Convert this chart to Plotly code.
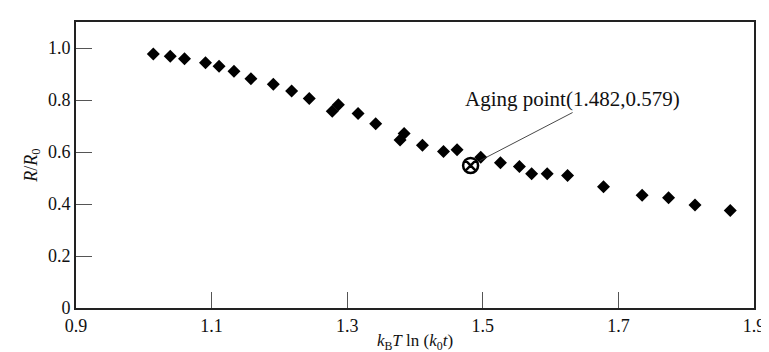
import plotly.graph_objects as go

# Data
x_vals = [1.014, 1.039, 1.060, 1.091, 1.111, 1.133, 1.158, 1.191, 1.218, 1.244,
          1.278, 1.287, 1.316, 1.342, 1.378, 1.384, 1.411, 1.442, 1.462, 1.497,
          1.526, 1.554, 1.572, 1.595, 1.625, 1.678, 1.735, 1.774, 1.813, 1.865]
y_vals = [0.977, 0.968, 0.959, 0.943, 0.930, 0.911, 0.882, 0.861, 0.835, 0.806,
          0.757, 0.782, 0.748, 0.709, 0.646, 0.671, 0.626, 0.602, 0.609, 0.580,
          0.559, 0.544, 0.516, 0.516, 0.510, 0.466, 0.434, 0.424, 0.396, 0.375]

aging_x = [1.482]
aging_y = [0.548]
aging_label = "Aging point(1.482,0.579)"

x_ticks = [0.9, 1.1, 1.3, 1.5, 1.7, 1.9]
x_ticktext = ["0.9", "1.1", "1.3", "1.5", "1.7", "1.9"]
y_ticks = [0, 0.2, 0.4, 0.6, 0.8, 1.0]
y_ticktext = ["0", "0.2", "0.4", "0.6", "0.8", "1.0"]

FONT = "Liberation Serif"
AXC = "#222222"

fig = go.Figure()
fig.add_trace(go.Scatter(
    x=x_vals, y=y_vals, mode="markers",
    marker=dict(symbol="diamond", size=10, color="black", line=dict(width=0)),
    showlegend=False, hoverinfo="x+y"))
fig.add_trace(go.Scatter(
    x=aging_x, y=aging_y, mode="markers",
    marker=dict(symbol="circle-x-open", size=15, color="black", line=dict(width=2.5)),
    showlegend=False))

fig.add_annotation(
    x=aging_x[0], y=aging_y[0], xref="x", yref="y",
    text=aging_label, showarrow=True, arrowhead=0, arrowwidth=0.9,
    arrowcolor="#333333", ax=102, ay=-53, xanchor="center", yanchor="bottom",
    standoff=10, font=dict(family=FONT, size=21, color="#111111"))

fig.update_layout(
    width=769, height=352,
    margin=dict(l=68, r=15, t=13, b=52),
    paper_bgcolor="white", plot_bgcolor="white",
    font=dict(family=FONT, size=18, color="#111111"),
    xaxis=dict(
        range=[0.9, 1.9], tickvals=x_ticks, ticktext=x_ticktext,
        ticks="inside", ticklen=16, tickwidth=1.2, tickcolor="#555555",
        showline=True, linecolor=AXC, linewidth=2, mirror=True,
        showgrid=False, zeroline=False,
        tickfont=dict(family=FONT, size=18, color="#111111"),
        title=dict(text="<i>k</i><sub>B</sub><i>T</i> ln (<i>k</i><sub>0</sub><i>t</i>)",
                   font=dict(family=FONT, size=17, color="#111111"), standoff=0)),
    yaxis=dict(
        range=[0, 1.1], tickvals=y_ticks, ticktext=y_ticktext,
        ticks="inside", ticklen=16, tickwidth=1.2, tickcolor="#555555",
        showline=True, linecolor=AXC, linewidth=2, mirror=True,
        showgrid=False, zeroline=False,
        tickfont=dict(family=FONT, size=18, color="#111111"),
        title=dict(text="<i>R</i>/<i>R</i><sub>0</sub>",
                   font=dict(family=FONT, size=18, color="#111111"), standoff=6)),
)

fig.write_html("out.html")
